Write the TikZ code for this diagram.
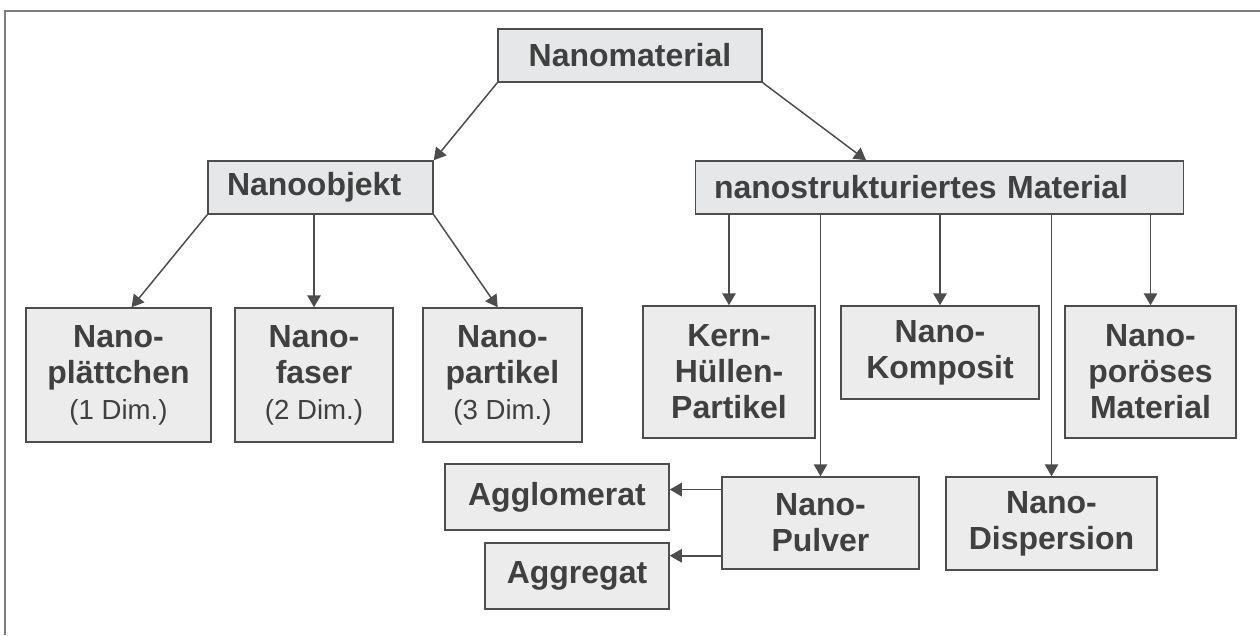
\documentclass[tikz,border=0pt]{standalone}
\usepackage{fontspec}
\setmainfont{Liberation Sans}
\usepackage{tikz}
\usetikzlibrary{arrows.meta,positioning,calc}
\usepackage{xcolor}
\definecolor{cBox}{RGB}{236,236,236}
\definecolor{cTop}{RGB}{230,231,232}
\definecolor{cLine}{RGB}{77,77,77}
\definecolor{cText}{RGB}{64,64,64}
\definecolor{cFrame}{RGB}{125,125,125}
\newcommand{\dimlabel}[1]{{\mdseries\fontsize{15.7}{18}\selectfont #1}}
\tikzset{
  basebox/.style={rectangle,draw=cLine,line width=0.03cm,fill=cBox,
                  text=cText,align=center,inner sep=0pt,
                  font=\fontsize{18.2}{20.5}\selectfont\bfseries},
  topnode/.style={basebox,fill=cTop,minimum height=1.06cm},
  leftnode/.style={topnode,align=left},
  arr/.style={-{Triangle[length=0.24cm,width=0.27cm]},line width=0.03cm,
              color=cLine},
  frameline/.style={line width=0.03cm,color=cFrame}
}

\begin{document}
\begin{tikzpicture}

  \useasboundingbox (0,0) rectangle (25.2,-12.7);
  \draw[frameline] (0.1,-12.7) -- (0.1,-0.22) -- (25.2,-0.22);

  % Top levels
  \node[topnode,minimum width=5.28cm] (mat) at (12.6,-1.11) {Nanomaterial};
  \node[leftnode,minimum width=4.5cm,text width=3.74cm] (obj) at (6.41,-3.75) {Nanoobjekt};
  \node[leftnode,minimum width=9.76cm,text width=9.02cm] (nstr) at (18.79,-3.75)
      {nanostrukturiertes Material};

  % Nanoobjects
  \node[basebox,minimum width=3.7cm,minimum height=2.68cm] (plaet) at (2.37,-7.5)
      {Nano-\\plättchen\\\dimlabel{(1 Dim.)}};
  \node[basebox,minimum width=3.16cm,minimum height=2.68cm] (faser) at (6.28,-7.5)
      {Nano-\\faser\\\dimlabel{(2 Dim.)}};
  \node[basebox,minimum width=3.18cm,minimum height=2.68cm] (part) at (10.05,-7.5)
      {Nano-\\partikel\\\dimlabel{(3 Dim.)}};

  % Nanostructured materials
  \node[basebox,minimum width=3.44cm,minimum height=2.64cm] (kern) at (14.58,-7.44)
      {Kern-\\Hüllen-\\Partikel};
  \node[basebox,minimum width=3.96cm,minimum height=1.86cm] (komp) at (18.8,-7.05)
      {Nano-\\Komposit};
  \node[basebox,minimum width=3.42cm,minimum height=2.64cm] (poros) at (23.01,-7.44)
      {Nano-\\poröses\\Material};
  \node[basebox,minimum width=3.94cm,minimum height=1.84cm] (pulv) at (16.41,-10.46)
      {Nano-\\Pulver};
  \node[basebox,minimum width=4.22cm,minimum height=1.86cm] (disp) at (21.03,-10.47)
      {Nano-\\Dispersion};
  \node[basebox,minimum width=4.48cm,minimum height=1.32cm] (aggl) at (11.14,-9.94)
      {Agglomerat};
  \node[basebox,minimum width=3.68cm,minimum height=1.32cm] (aggr) at (11.54,-11.52)
      {Aggregat};

  % Arrows
  \draw[arr] (mat.south west) -- (obj.north east);
  \draw[arr] (mat.south east) -- ($(nstr.north west)!0.35!(nstr.north east)$);
  \draw[arr] (obj.south west) -- ($(plaet.north west)!0.57!(plaet.north east)$);
  \draw[arr] (obj.south -| faser.north) -- (faser.north);
  \draw[arr] (obj.south east) -- ($(part.north west)!0.47!(part.north east)$);
  \draw[arr] (nstr.south -| kern.north) -- (kern.north);
  \draw[arr] (nstr.south -| pulv.north) -- (pulv.north);
  \draw[arr] (nstr.south -| komp.north) -- (komp.north);
  \draw[arr] (nstr.south -| disp.north) -- (disp.north);
  \draw[arr] (nstr.south -| poros.north) -- (poros.north);
  \coordinate (ag1) at ($(aggl.north east)!0.39!(aggl.south east)$);
  \coordinate (ag2) at ($(aggr.north east)!0.2!(aggr.south east)$);
  \draw[arr] (pulv.west |- ag1) -- (ag1);
  \draw[arr] (pulv.west |- ag2) -- (ag2);

\end{tikzpicture}
\end{document}
